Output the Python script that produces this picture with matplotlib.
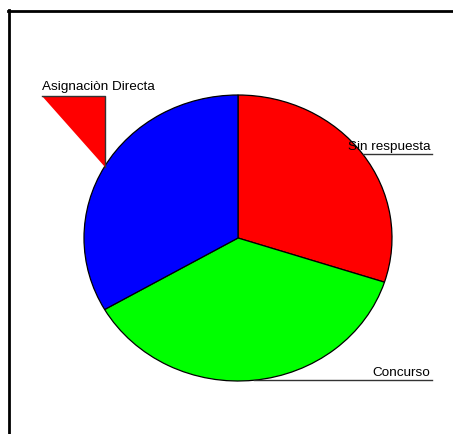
import numpy as np
import matplotlib
matplotlib.use("Agg")
import matplotlib.pyplot as plt
from matplotlib.lines import Line2D
from matplotlib.patches import Polygon

# Datos del gráfico
categorias = ["Sin respuesta", "Concurso", "Asignaciòn Directa"]
valores = [9, 11, 10]
colores = ["#ff0000", "#00ff00", "#0000ff"]

plt.rcParams["font.family"] = ["Liberation Sans", "DejaVu Sans"]

W, H = 453, 435
fig = plt.figure(figsize=(W / 100, H / 100), dpi=100)
fig.patch.set_facecolor("white")

# Centro y radios del pastel en pixeles (ligeramente elíptico)
cx, cy = 238, 239
rx, ry = 154, 143

ax = fig.add_axes([0, 0, 1, 1])

wedges, _ = ax.pie(valores, colors=colores, startangle=90, counterclock=False,
                   radius=1, center=(0, 0),
                   wedgeprops=dict(edgecolor="black", linewidth=0.9))
ax.axis("off")
ax.set_aspect("auto")
ax.set_xlim(-cx / rx, (W - cx) / rx)
ax.set_ylim(-(H - cy) / ry, cy / ry)

def px_x(p):
    return (p - cx) / rx

def px_y(p):
    return (cy - p) / ry

x_der = px_x(432)
for w, nombre in zip(wedges, categorias):
    ang = np.deg2rad((w.theta1 + w.theta2) / 2)
    x0, y0 = np.cos(ang), np.sin(ang)
    if x0 > 0:
        ax.add_line(Line2D([x0, x_der], [y0, y0], color="#333333", lw=1.0))
        ax.text(x_der - 0.01, y0 + 0.015, nombre, ha="right", va="bottom",
                fontsize=9.7, color="black")
    else:
        # etiqueta del lado izquierdo con guía en escuadra
        x_izq = px_x(42)
        y_top = px_y(97)
        tri = Polygon([[x_izq, y_top], [x0, y_top], [x0, y0]], closed=True,
                      facecolor=colores[0], edgecolor="none")
        ax.add_patch(tri)
        ax.add_line(Line2D([x_izq, x0, x0], [y_top, y_top, y0],
                           color="#333333", lw=1.0))
        ax.text(x_izq, y_top + 0.03, nombre, ha="left", va="bottom",
                fontsize=9.7, color="black")

# Marco superior e izquierdo
fig.add_artist(Line2D([8 / W, 1], [1 - 12 / H, 1 - 12 / H], color="black",
                      lw=2, transform=fig.transFigure))
fig.add_artist(Line2D([9 / W, 9 / W], [0, 1 - 11 / H], color="black",
                      lw=2, transform=fig.transFigure))

fig.savefig("out.png", dpi=100, facecolor="white")
